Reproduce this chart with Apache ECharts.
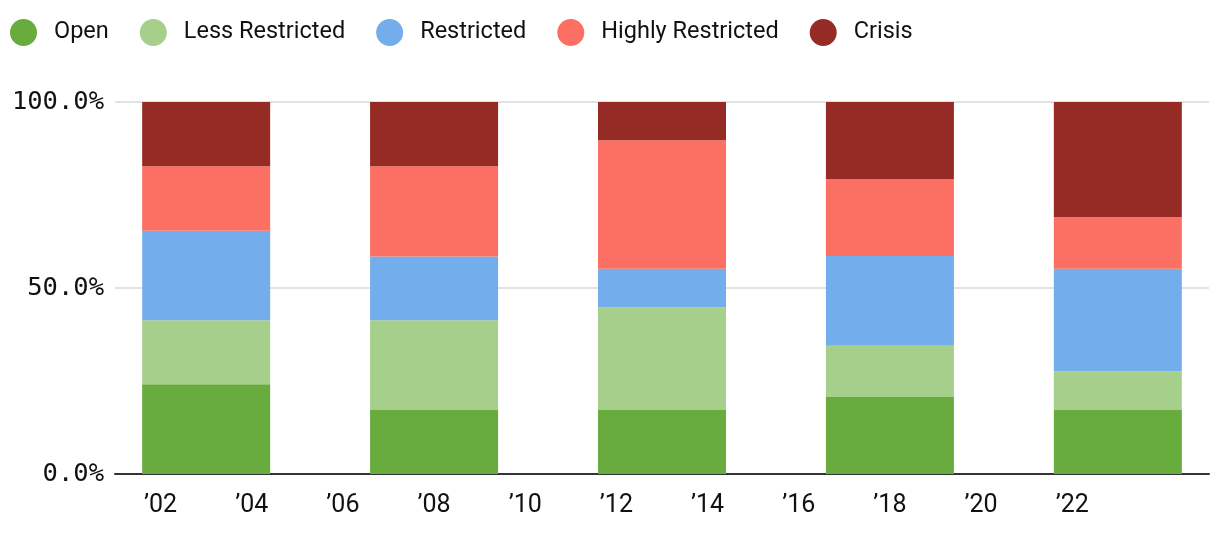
<!DOCTYPE html>
<html>
<head>
<meta charset="utf-8">
<script src="https://cdn.jsdelivr.net/npm/echarts@6/dist/echarts.min.js"></script>
<style>
html,body{margin:0;padding:0;background:#fff;}
#chart{width:1220px;height:540px;}
</style>
</head>
<body>
<div id="chart"></div>
<script>
// Data (percent of total per period)
const years = [2003, 2008, 2013, 2018, 2023];
const seriesNames = ['Open', 'Less Restricted', 'Restricted', 'Highly Restricted', 'Crisis'];
const openVals = [24.1, 17.2, 17.2, 20.7, 17.2];
const lessVals = [17.2, 24.1, 27.6, 13.8, 10.4];
const restrictedVals = [24.1, 17.2, 10.4, 24.1, 27.6];
const highlyVals = [17.3, 24.2, 34.5, 20.7, 13.8];
const crisisVals = [17.3, 17.3, 10.3, 20.7, 31.0];
const axisYears = [2001, 2002, 2003, 2004, 2005, 2006, 2007, 2008, 2009, 2010, 2011, 2012, 2013,
                   2014, 2015, 2016, 2017, 2018, 2019, 2020, 2021, 2022, 2023, 2024, 2025];
const xTickYears = [2002, 2004, 2006, 2008, 2010, 2012, 2014, 2016, 2018, 2020, 2022];
const yTicks = [0, 50, 100];

const colors = ['#67ac3d', '#a6cf8c', '#73adeb', '#fb7063', '#962b25'];
const valueLists = [openVals, lessVals, restrictedVals, highlyVals, crisisVals];

function seriesData(vals) {
  return axisYears.map(y => {
    const k = years.indexOf(y);
    return k >= 0 ? vals[k] : null;
  });
}

const chart = echarts.init(document.getElementById('chart'), null, {renderer: 'canvas'});
chart.setOption({
  animation: false,
  color: colors,
  legend: {
    left: 5, top: 14,
    icon: 'circle',
    itemWidth: 27, itemHeight: 27,
    itemGap: 31,
    textStyle: {fontFamily: 'Roboto', fontSize: 23.5, color: '#111', padding: [0, 0, 0, 12]},
    data: seriesNames
  },
  grid: {left: 115, right: 11, top: 102, bottom: 66, containLabel: false},
  xAxis: {
    type: 'category',
    boundaryGap: false,
    data: axisYears.map(String),
    axisLine: {show: true, lineStyle: {color: '#333', width: 2}},
    axisTick: {show: false},
    splitLine: {show: false},
    axisLabel: {
      interval: (idx, val) => xTickYears.indexOf(Number(val)) >= 0,
      fontFamily: 'Roboto', fontSize: 25, color: '#111', margin: 19,
      formatter: v => '\u2019' + String(v).slice(2)
    }
  },
  yAxis: {
    type: 'value',
    min: 0, max: 100, interval: 50,
    axisLine: {show: false},
    axisTick: {show: false},
    splitLine: {show: true, lineStyle: {color: '#e2e2e2', width: 2}},
    axisLabel: {
      customValues: yTicks,
      fontFamily: 'DejaVu Sans Mono', fontSize: 25.5, color: '#111', margin: 11,
      padding: [8, 0, 0, 0],
      formatter: v => v.toFixed(1) + '%'
    }
  },
  series: seriesNames.map((name, i) => ({
    name: name,
    type: 'bar',
    stack: 'total',
    barWidth: 128,
    itemStyle: {color: colors[i]},
    data: seriesData(valueLists[i])
  }))
});
</script>
</body>
</html>
